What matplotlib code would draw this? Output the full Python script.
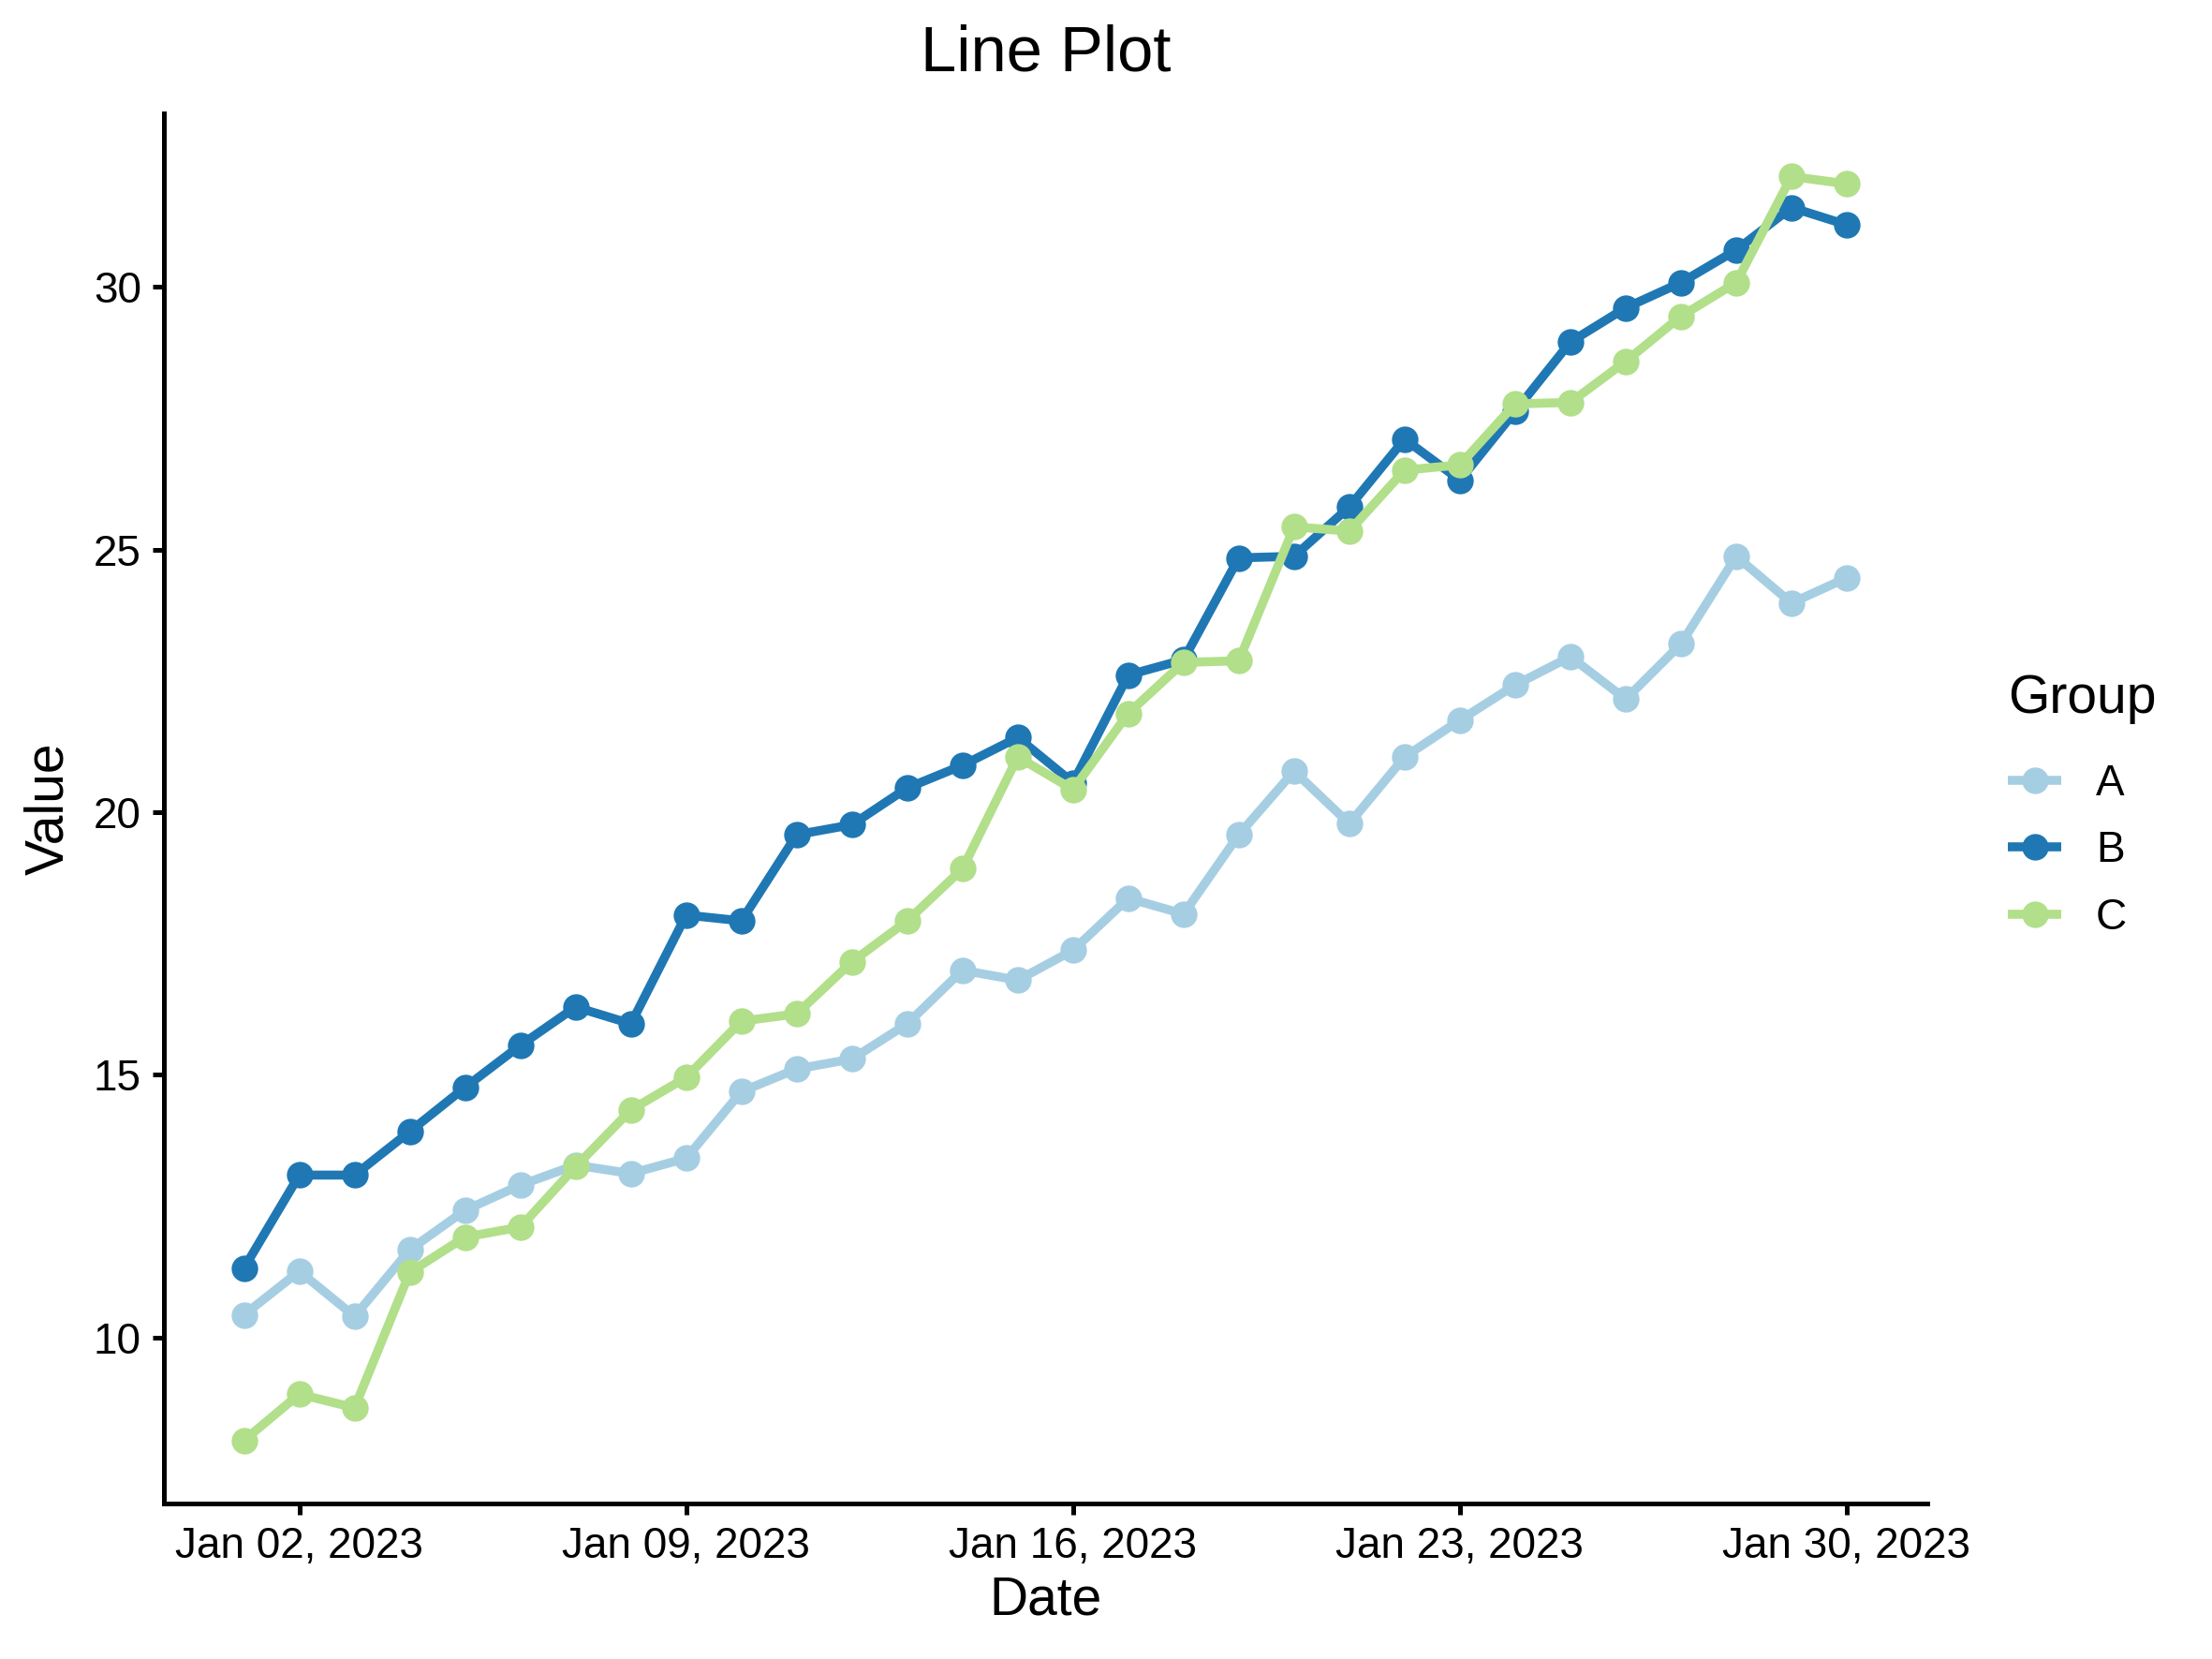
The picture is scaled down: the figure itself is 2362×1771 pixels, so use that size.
import numpy as np
import pandas as pd
import matplotlib
matplotlib.use("Agg")
import matplotlib.pyplot as plt
import matplotlib.dates as mdates

plt.rcParams["font.family"] = ["Liberation Sans", "DejaVu Sans"]

dates = pd.date_range("2023-01-01", "2023-01-30", freq="D")

group_a = [10.43, 11.26, 10.40, 11.67, 12.42, 12.90, 13.28, 13.12, 13.41, 14.68,
           15.11, 15.30, 15.97, 16.99, 16.80, 17.37, 18.36, 18.06, 19.57, 20.78,
           19.78, 21.05, 21.75, 22.42, 22.96, 22.15, 23.20, 24.87, 23.98, 24.46]
group_b = [11.32, 13.09, 13.09, 13.92, 14.76, 15.56, 16.29, 15.97, 18.04, 17.93,
           19.57, 19.76, 20.46, 20.89, 21.42, 20.56, 22.61, 22.90, 24.84, 24.87,
           25.81, 27.10, 26.32, 27.63, 28.95, 29.60, 30.08, 30.70, 31.51, 31.18]
group_c = [8.04, 8.92, 8.66, 11.24, 11.91, 12.10, 13.25, 14.33, 14.95, 16.02,
           16.16, 17.15, 17.93, 18.92, 21.05, 20.43, 21.88, 22.85, 22.88, 25.43,
           25.35, 26.51, 26.61, 27.77, 27.80, 28.58, 29.44, 30.08, 32.10, 31.96]

groups = ["A", "B", "C"]
series = [group_a, group_b, group_c]
colors = ["#A6CEE3", "#1F78B4", "#B2DF8A"]

fig = plt.figure(figsize=(2362 / 300, 1771 / 300), dpi=300)
ax = fig.add_axes([0.0741, 0.0937, 0.797, 0.838])

for name, vals, col in zip(groups, series, colors):
    ax.plot(dates, vals, color=col, linewidth=2.3, marker="o", markersize=5.8,
            label=name, solid_joinstyle="round", solid_capstyle="butt")

# ggplot-style 5% expansion
vals_all = np.concatenate(series)
lo, hi = vals_all.min(), vals_all.max()
pad = (hi - lo) * 0.05
ax.set_ylim(lo - pad, hi + pad)
span = (dates[-1] - dates[0]) * 0.05
ax.set_xlim(dates[0] - span, dates[-1] + span)

ax.set_yticks([10, 15, 20, 25, 30])
ax.set_xticks(pd.date_range("2023-01-02", periods=5, freq="7D"))
ax.xaxis.set_major_formatter(mdates.DateFormatter("%b %d, %Y"))

for side in ["top", "right"]:
    ax.spines[side].set_visible(False)
for side in ["left", "bottom"]:
    ax.spines[side].set_linewidth(1.2)
ax.tick_params(axis="both", length=2.8, width=1.2, labelsize=11, pad=3, colors="black")

ax.set_title("Line Plot", fontsize=16.5, pad=11)
ax.set_xlabel("Date", fontsize=13.7, labelpad=2)
ax.set_ylabel("Value", fontsize=13.7, labelpad=5)

leg = fig.legend(loc="upper left", bbox_to_anchor=(0.898, 0.607), frameon=False,
                 title="Group", fontsize=11, title_fontsize=13.7, alignment="left",
                 handlelength=1.25, handletextpad=0.8, labelspacing=0.6, borderpad=0)
leg._legend_box.sep = 10

fig.savefig("out.png", dpi=300)
